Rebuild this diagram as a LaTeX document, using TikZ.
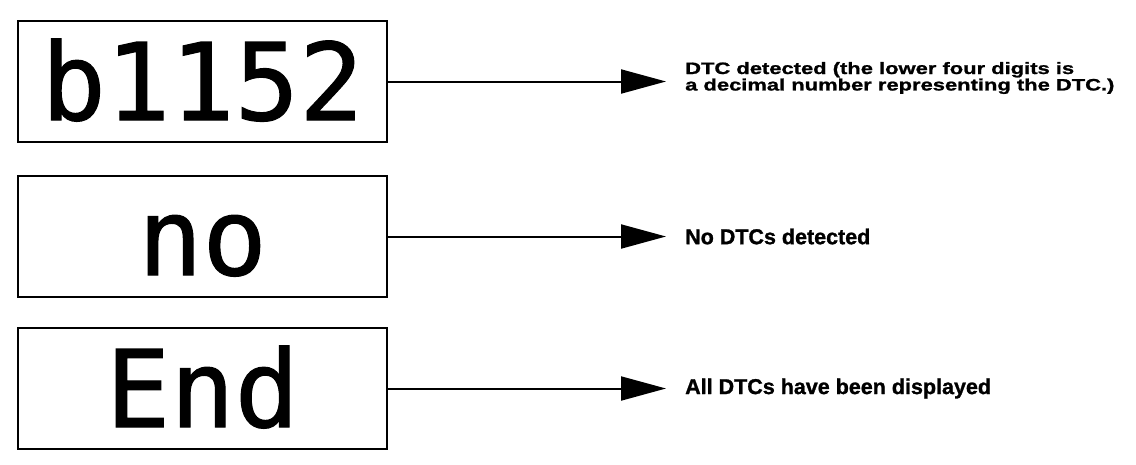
\documentclass[tikz,border=0pt]{standalone}
\usepackage{fontspec}
\usetikzlibrary{arrows.meta, positioning}
\newfontfamily\lcdfont[FakeBold=1]{DejaVu Sans Mono}
\newfontfamily\notefont[BoldFeatures={FakeBold=1.2}]{Liberation Sans}
\newfontfamily\widenotefont[FakeStretch=1.33, BoldFeatures={FakeBold=1.2}]{Liberation Sans}

\begin{document}
\begin{tikzpicture}[x=1pt, y=-1pt,
    display/.style={draw, line width=2.4pt, minimum width=369pt, minimum height=121pt,
      inner sep=0pt, text height=78pt, text depth=1pt,
      font=\lcdfont\fontsize{107}{107}\selectfont},
    note/.style={anchor=west, inner xsep=19pt, inner ysep=0pt, align=left,
      font=\notefont\bfseries\fontsize{21.5}{24}\selectfont},
    pointer/.style={line width=2pt, -{Triangle[length=45pt, width=24pt]}}]
  \useasboundingbox (0,0) rectangle (1136,464);
  % display read-outs
  \node[display] (dtc) at (202.5,81.5) {b1152};
  \node[display] (none) at (202.5,236.5) {no};
  \node[display] (last) at (202.5,388.5) {End};
  % what they mean
  \node[note, font=\widenotefont\bfseries\fontsize{16.5}{15}\selectfont] (dtcnote) at (666,78)
    {DTC detected (the lower four digits is\\a decimal number representing the DTC.)};
  \node[note] (nonenote) at (666,236.5) {No DTCs detected};
  \node[note] (lastnote) at (666,388.5) {All DTCs have been displayed};
  \draw[pointer] (dtc.east) -- (dtc.east -| dtcnote.west);
  \draw[pointer] (none.east) -- (nonenote.west);
  \draw[pointer] (last.east) -- (lastnote.west);
\end{tikzpicture}
\end{document}
